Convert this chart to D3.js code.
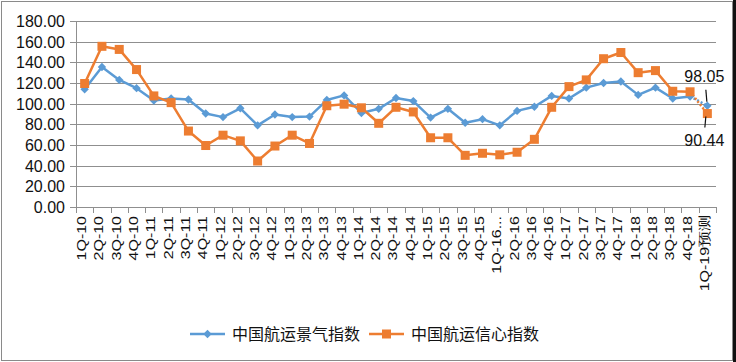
<!DOCTYPE html>
<html lang="zh">
<head>
<meta charset="UTF-8">
<title>中国航运景气指数 / 信心指数</title>
<script src="https://d3js.org/d3.v7.min.js"></script>
<style>
    body { margin: 0; background: #fff; }
    svg { display: block; font-family: "Liberation Sans", Arial, sans-serif; }
    .grid line { stroke: #8f8f8f; stroke-width: 1; shape-rendering: crispEdges; }
    .axis path, .axis line { stroke: #8f8f8f; stroke-width: 1; shape-rendering: crispEdges; }
    .axis text { fill: #111; font-size: 16px; }
    .legend text { font-family: "Noto Sans CJK SC", sans-serif; font-size: 16px; fill: #111; }
    .note { font-size: 16px; fill: #111; }
</style>
</head>
<body>
<div id="chart"></div>
<script>
    // --- data ---
    const quarters = [
        "1Q-10","2Q-10","3Q-10","4Q-10","1Q-11","2Q-11","3Q-11","4Q-11",
        "1Q-12","2Q-12","3Q-12","4Q-12","1Q-13","2Q-13","3Q-13","4Q-13",
        "1Q-14","2Q-14","3Q-14","4Q-14","1Q-15","2Q-15","3Q-15","4Q-15",
        "1Q-16...","2Q-16","3Q-16","4Q-16","1Q-17","2Q-17","3Q-17","4Q-17",
        "1Q-18","2Q-18","3Q-18","4Q-18","1Q-19预测"
    ];
    const prosperity = [114, 135.5, 123, 115, 103, 105, 104, 90.5, 87, 95.5,
        79, 89.5, 87, 87.5, 103.5, 108, 91, 95, 105.5, 102.5,
        86.5, 95, 81.5, 85, 79, 93, 97, 107.5, 105, 115.5,
        120, 121.5, 108.5, 115.5, 105, 107, 98.05];
    const confidence = [119.5, 155.5, 152.5, 133, 107.5, 101, 73.5, 59.5, 69.5, 64,
        44.5, 59, 69.5, 61.5, 98, 99.5, 96, 81, 96.5, 92,
        67, 67, 50, 52, 50.5, 53, 65.5, 96.5, 116.5, 123,
        143.5, 149.5, 130, 132, 112, 111.5, 90.44];
    const yTicks = [0, 20, 40, 60, 80, 100, 120, 140, 160, 180];
    const seriesNames = ["中国航运景气指数", "中国航运信心指数"];
    const colors = ["#5b9bd5", "#ed7d31"];

    const W = 736, H = 362;
    const svg = d3.select("#chart").append("svg").attr("width", W).attr("height", H);

    // frame
    svg.append("rect").attr("x", 1.5).attr("y", 1.5).attr("width", 731).attr("height", 359)
        .attr("fill", "none").attr("stroke", "#8a8a8a");
    svg.append("rect").attr("x", 733).attr("y", 0).attr("width", 3).attr("height", H).attr("fill", "#111");

    const x = d3.scaleBand().domain(quarters).range([76, 716]).padding(0);
    const y = d3.scaleLinear().domain([0, 180]).range([207, 21]);
    const cx = d => x(d) + x.bandwidth() / 2;

    // horizontal gridlines
    svg.append("g").attr("class", "grid")
        .selectAll("line").data(yTicks.slice(1)).join("line")
        .attr("x1", 76).attr("x2", 716)
        .attr("y1", d => Math.round(y(d)) + 0.5).attr("y2", d => Math.round(y(d)) + 0.5);

    // y axis
    const yAxis = svg.append("g").attr("class", "axis").attr("transform", "translate(76,0)")
        .call(d3.axisLeft(y).tickValues(yTicks).tickFormat(d3.format(".2f")).tickSize(6).tickPadding(5));
    yAxis.selectAll("text").attr("dy", "0.35em");

    // x axis: ticks at category boundaries
    const xg = svg.append("g").attr("class", "axis");
    xg.append("line").attr("x1", 76).attr("x2", 716).attr("y1", 207.5).attr("y2", 207.5);
    xg.selectAll(".tk").data(d3.range(quarters.length + 1)).join("line").attr("class", "tk")
        .attr("x1", i => Math.round(76 + i * x.bandwidth()) + 0.5)
        .attr("x2", i => Math.round(76 + i * x.bandwidth()) + 0.5)
        .attr("y1", 207).attr("y2", 213);
    xg.selectAll("text").data(quarters).join("text")
        .attr("text-anchor", "end")
        .attr("transform", d => `translate(${cx(d) - 3},216) rotate(-90) scale(1,0.8)`)
        .attr("dy", "0.35em")
        .text(d => d);

    // lines (last segment dotted = forecast)
    const line = d3.line().x((d, i) => d.x).y(d => y(d.v));
    [prosperity, confidence].forEach((vals, s) => {
        const pts = vals.map((v, i) => ({ x: cx(quarters[i]), v }));
        svg.append("path").datum(pts.slice(0, -1)).attr("d", line)
            .attr("fill", "none").attr("stroke", colors[s]).attr("stroke-width", 2.5)
            .attr("stroke-linejoin", "round");
        svg.append("path").datum(pts.slice(-2)).attr("d", line)
            .attr("fill", "none").attr("stroke", colors[s]).attr("stroke-width", 2.5)
            .attr("stroke-dasharray", "2,2");
    });

    // markers
    const diamond = d3.symbol().type(d3.symbolDiamond2).size(45);
    svg.append("g").selectAll("path").data(prosperity).join("path")
        .attr("d", diamond)
        .attr("transform", (d, i) => `translate(${cx(quarters[i])},${y(d)})`)
        .attr("fill", colors[0]);
    svg.append("g").selectAll("rect").data(confidence).join("rect")
        .attr("x", (d, i) => cx(quarters[i]) - 4.5).attr("y", d => y(d) - 4.5)
        .attr("width", 9).attr("height", 9).attr("fill", colors[1]);

    // forecast value labels with leader lines
    const last = quarters[quarters.length - 1];
    const lp = prosperity[prosperity.length - 1], lc = confidence[confidence.length - 1];
    svg.append("text").attr("class", "note").attr("text-anchor", "middle")
        .attr("x", cx(last) - 3).attr("y", y(lp) - 24).text(lp.toFixed(2));
    svg.append("line").attr("x1", cx(last) - 1.5).attr("x2", cx(last) - 0.5)
        .attr("y1", y(lp) - 16).attr("y2", y(lp) - 4).attr("stroke", "#111").attr("stroke-width", 1.2);
    svg.append("text").attr("class", "note").attr("text-anchor", "middle")
        .attr("x", cx(last) - 3).attr("y", y(lc) + 32).text(lc.toFixed(2));
    svg.append("line").attr("x1", cx(last) - 1.5).attr("x2", cx(last) - 2.5)
        .attr("y1", y(lc) + 3).attr("y2", y(lc) + 14).attr("stroke", "#111").attr("stroke-width", 1.2);

    // legend
    const legend = svg.append("g").attr("class", "legend");
    const legX = [190, 369];
    seriesNames.forEach((name, s) => {
        const g = legend.append("g").attr("transform", `translate(${legX[s]},334)`);
        g.append("line").attr("x1", 0).attr("x2", 35).attr("stroke", colors[s]).attr("stroke-width", 2.5);
        if (s === 0) g.append("path").attr("d", diamond).attr("transform", "translate(17.5,0)").attr("fill", colors[s]);
        else g.append("rect").attr("x", 13).attr("y", -4.5).attr("width", 9).attr("height", 9).attr("fill", colors[s]);
        g.append("text").attr("x", 42).attr("dy", "0.35em").text(name);
    });
</script>
</body>
</html>
